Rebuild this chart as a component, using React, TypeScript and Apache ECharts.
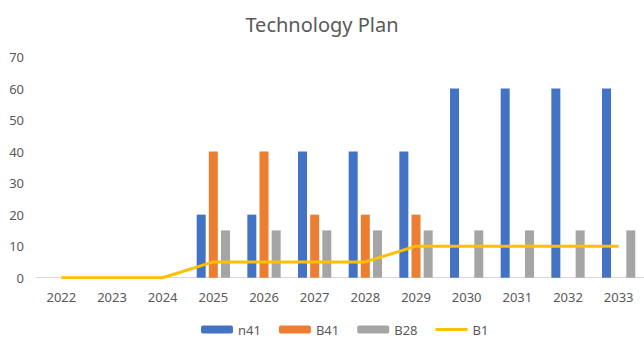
import React, { useEffect, useRef } from "react";
import * as echarts from "echarts";

const categories = ["2022", "2023", "2024", "2025", "2026", "2027", "2028", "2029", "2030", "2031", "2032", "2033"];
const n41 = [0, 0, 0, 20, 20, 40, 40, 40, 60, 60, 60, 60];
const b41 = [0, 0, 0, 40, 40, 20, 20, 20, 0, 0, 0, 0];
const b28 = [0, 0, 0, 15, 15, 15, 15, 15, 15, 15, 15, 15];
const b1 = [0, 0, 0, 5, 5, 5, 5, 10, 10, 10, 10, 10];

export default function App() {
  const ref = useRef<HTMLDivElement>(null);
  useEffect(() => {
    if (!ref.current) return;
    const chart = echarts.init(ref.current, null, { renderer: "svg" });
    const font = "'Noto Sans', sans-serif";
    const textColor = "#595959";
    chart.setOption({
      animation: false,
      backgroundColor: "#ffffff",
      title: {
        text: "Technology Plan",
        left: "center",
        top: 9,
        textStyle: { fontFamily: font, fontSize: 20, fontWeight: "normal", color: textColor },
      },
      legend: {
        left: 196,
        top: 318,
        itemWidth: 32,
        itemHeight: 8,
        itemGap: 18,
        textStyle: { fontFamily: font, fontSize: 13, color: textColor },
        data: [
          "n41",
          "B41",
          "B28",
          { name: "B1", icon: "path://M0,0M0,2.5L32,2.5L32,5.5L0,5.5ZM32,8" },
        ],
      },
      grid: { left: 36, top: 57, width: 614, height: 220.7 },
      xAxis: {
        type: "category",
        data: categories,
        axisLine: { lineStyle: { color: "#d9d9d9" } },
        axisTick: { show: false },
        axisLabel: { fontFamily: font, fontSize: 13, color: textColor, margin: 13 },
      },
      yAxis: {
        type: "value",
        min: 0,
        max: 70,
        interval: 10,
        axisLine: { show: false },
        axisTick: { show: false },
        splitLine: { show: false },
        axisLabel: { fontFamily: font, fontSize: 13, color: textColor, margin: 12 },
      },
      series: [
        { name: "n41", type: "bar", data: n41, barWidth: 9, barGap: "35%", itemStyle: { color: "#4472C4" } },
        { name: "B41", type: "bar", data: b41, barWidth: 9, barGap: "35%", itemStyle: { color: "#ED7D31" } },
        { name: "B28", type: "bar", data: b28, barWidth: 9, barGap: "35%", itemStyle: { color: "#A5A5A5" } },
        {
          name: "B1",
          type: "line",
          data: b1,
          symbol: "none",
          lineStyle: { color: "#FFC000", width: 3 },
          itemStyle: { color: "#FFC000" },
          z: 5,
        },
      ],
    });
    return () => chart.dispose();
  }, []);
  return <div ref={ref} style={{ position: "absolute", left: 0, top: 0, width: 644, height: 338 }} />;
}
